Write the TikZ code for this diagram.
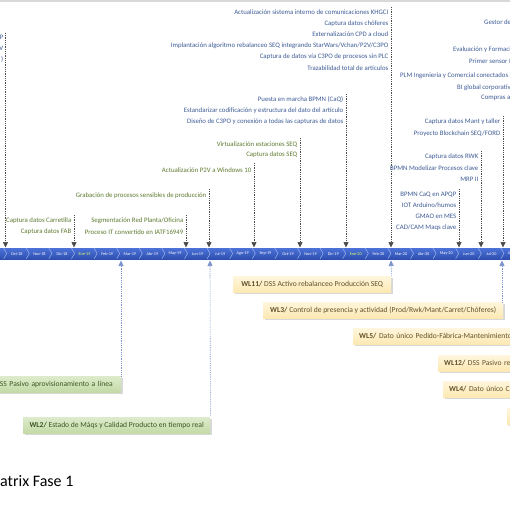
\documentclass[tikz,border=0pt]{standalone}
\usepackage{fontspec}
\setmainfont{Carlito}
\usetikzlibrary{arrows.meta,shadows}
\definecolor{evgreen}{HTML}{5F7A31}
\definecolor{evblue}{HTML}{3E5C96}
\definecolor{barTop}{HTML}{4D72D8}
\definecolor{barBot}{HTML}{2E4FB0}
\definecolor{chev}{HTML}{9DB4EE}
\definecolor{upcol}{HTML}{4463B8}
\definecolor{ylwTop}{HTML}{FFF6DC}
\definecolor{ylwBot}{HTML}{FCE8B2}
\definecolor{ylwTxt}{HTML}{63502A}
\definecolor{grnTop}{HTML}{DDEBCB}
\definecolor{grnBot}{HTML}{C3DAA6}
\definecolor{grnTxt}{HTML}{3E5726}
\begin{document}
\begin{tikzpicture}[x=1pt,y=-1pt,
  ev/.style={font=\fontsize{6.8}{7.5}\selectfont, inner sep=0pt, anchor=east},
  evg/.style={ev, text=evgreen},
  evb/.style={ev, text=evblue},
  evcut/.style={font=\fontsize{6.8}{7.5}\selectfont, inner sep=0pt, anchor=west, text=evblue},
  downline/.style={draw=black!70, line width=0.7pt, dash pattern=on 0.9pt off 0.9pt,
    -{Triangle[width=5pt,length=5.5pt]}},
  upline/.style={draw=upcol!70, line width=0.6pt, dash pattern=on 0.9pt off 0.9pt,
    {Triangle[width=5pt,length=5.5pt]}-},
  boxbase/.style={minimum height=16pt, inner ysep=0pt, inner xsep=6pt,
    font=\fontsize{7.6}{9}\selectfont,
    drop shadow={shadow xshift=2pt, shadow yshift=-2pt, fill=black!30}},
  wly/.style={boxbase, top color=ylwTop, bottom color=ylwBot, text=ylwTxt},
  wlg/.style={boxbase, top color=grnTop, bottom color=grnBot, text=grnTxt},
  month/.style={font=\fontsize{4.2}{4.7}\selectfont, text=white, inner sep=0pt},
  monthene/.style={month, text=green!20!yellow!60!white}
]
\useasboundingbox (0,0) rectangle (510,510);
\fill[white] (0,0) rectangle (510,510);
\fill[black!15] (0,0) rectangle (510,1.8);

% ---------- timeline bar ----------
\shade[top color=barTop, bottom color=barBot] (-5,248) rectangle (515,259);
\foreach \k in {0,...,22}{
  \pgfmathsetmacro{\b}{5.5+22.6*\k}
  \draw[chev, line width=0.5pt] (\b-1.8,248.3) -- (\b+1.2,253.5) -- (\b-1.8,258.7);
}
\foreach \m [count=\i from -1] in {Sep-18,Oct-18,Nov-18,Dic-18,Ene-19,Feb-19,Mar-19,Abr-19,May-19,Jun-19,Jul-19,Ago-19,Sep-19,Oct-19,Nov-19,Dic-19,Ene-20,Feb-20,Mar-20,Abr-20,May-20,Jun-20,Jul-20,Ago-20}{
  \pgfmathsetmacro{\cx}{16.8+22.6*\i}
  \ifnum\i=3 \node[monthene] (m\i) at (\cx,253.7) {\m};
  \else\ifnum\i=15 \node[monthene] (m\i) at (\cx,253.7) {\m};
  \else \node[month] (m\i) at (\cx,253.7) {\m};
  \fi\fi
}

% ---------- events above the bar ----------
% group A (cut at left)
\coordinate (aT) at (5.5,33); \coordinate (aA) at (5.5,247.5);
\node[evb] (a1) at (3.5,37) {P};
\node[evb] (a2) at (3.5,48) {V};
\node[evb] (a3) at (3.5,59) {)};
\draw[downline] (aT) -- (aA);

% group B
\coordinate (bT) at (74,215); \coordinate (bA) at (74,247.5);
\node[evg] (b1) at (71.5,221) {Captura datos Carretilla};
\node[evg] (b2) at (71.5,232) {Captura datos FAB};
\draw[downline] (bT) -- (bA);

% group C
\coordinate (cT) at (186,215); \coordinate (cA) at (186,247.5);
\node[evg] (c1) at (183.5,221) {Segmentación Red Planta/Oficina};
\node[evg] (c2) at (183.5,232) {Proceso IT convertido en IATF16949};
\draw[downline] (cT) -- (cA);

% group D
\coordinate (dT) at (209,189); \coordinate (dA) at (209,247.5);
\node[evg] (d1) at (206.5,196) {Grabación de procesos sensibles de producción};
\draw[downline] (dT) -- (dA);

% group E
\coordinate (eT) at (254,163); \coordinate (eA) at (254,247.5);
\node[evg] (e1) at (251.5,170) {Actualización P2V a Windows 10};
\draw[downline] (eT) -- (eA);

% group F
\coordinate (fT) at (300,138); \coordinate (fA) at (300,247.5);
\node[evg] (f1) at (297.5,144.3) {Virtualización estaciones SEQ};
\node[evg] (f2) at (297.5,154.7) {Captura datos SEQ};
\draw[downline] (fT) -- (fA);

% group G
\coordinate (gT) at (346,94); \coordinate (gA) at (346,247.5);
\node[evb] (g1) at (343.5,99.5) {Puesta en marcha BPMN (CaQ)};
\node[evb] (g2) at (343.5,111) {Estandarizar codificación y estructura del dato del artículo};
\node[evb] (g3) at (343.5,122) {Diseño de C3PO y conexión a todas las capturas de datos};
\draw[downline] (gT) -- (gA);

% group H
\coordinate (hT) at (391,7); \coordinate (hA) at (391,247.5);
\node[evb] (h1) at (388.5,12.5) {Actualización sistema interno de comunicaciones KHGCI};
\node[evb] (h2) at (388.5,23.5) {Captura datos chóferes};
\node[evb] (h3) at (388.5,34.5) {Externalización CPD a cloud};
\node[evb] (h4) at (388.5,45.5) {Implantación algoritmo rebalanceo SEQ integrando StarWars/Vchan/P2V/C3PO};
\node[evb] (h5) at (388.5,56.5) {Captura de datos vía C3PO de procesos sin PLC};
\node[evb] (h6) at (388.5,68) {Trazabilidad total de artículos};
\draw[downline] (hT) -- (hA);

% group APQP
\coordinate (iT) at (459,189); \coordinate (iA) at (459,247.5);
\node[evb] (i1) at (456.5,194.5) {BPMN CaQ en APQP};
\node[evb] (i2) at (456.5,205.5) {IOT Arduino/humos};
\node[evb] (i3) at (456.5,216.5) {GMAO en MES};
\node[evb] (i4) at (456.5,227.5) {CAD/CAM Maqs clave};
\draw[downline] (iT) -- (iA);

% group RWK
\coordinate (jT) at (481,151); \coordinate (jA) at (481,247.5);
\node[evb] (j1) at (478.5,157) {Captura datos RWK};
\node[evb] (j2) at (478.5,168) {BPMN Modelizar Procesos clave};
\node[evb] (j3) at (478.5,179) {MRP II};
\draw[downline] (jT) -- (jA);

% group Mant
\coordinate (kT) at (503,116); \coordinate (kA) at (503,247.5);
\node[evb] (k1) at (500.5,122) {Captura datos Mant y taller};
\node[evb] (k2) at (500.5,133.5) {Proyecto Blockchain SEQ/FORD};
\draw[downline] (kT) -- (kA);

% texts cut at the right edge
\node[evcut] (r1) at (484,22.3) {Gestor de};
\node[evcut] (r2) at (453,50) {Evaluación y Formaci};
\node[evcut] (r3) at (469,60.7) {Primer sensor I};
\node[evcut] (r4) at (400,76) {PLM Ingeniería y Comercial conectados a};
\node[evcut] (r5) at (457,87.3) {BI global corporativ};
\node[evcut] (r6) at (481,98.3) {Compras a};

% ---------- work lines below the bar ----------
\node[wlg, anchor=north east, text width=150pt, align=right, inner xsep=8pt] (wl1) at (121,376)
  {DSS Pasivo aprovisionamiento a línea};
\node[wlg, anchor=north west, minimum width=187pt] (wl2) at (23,417)
  {\textbf{WL2/} Estado de Máqs y Calidad Producto en tiempo real};
\node[wly, anchor=north west, minimum width=158pt] (wl11) at (233,276)
  {\textbf{WL11/} DSS Activo rebalanceo Producción SEQ};
\node[wly, anchor=north west, minimum width=240pt] (wl3) at (263,302)
  {\textbf{WL3/} Control de presencia y actividad (Prod/Rwk/Mant/Carret/Chóferes)};
\node[wly, anchor=north west, text width=170pt, align=left] (wl5) at (353,328)
  {\textbf{WL5/} Dato único Pedido-Fábrica-Mantenimiento};
\node[wly, anchor=north west, text width=90pt, align=left] (wl12) at (438,355)
  {\textbf{WL12/} DSS Pasivo reb};
\node[wly, anchor=north west, text width=90pt, align=left] (wl4) at (443,381)
  {\textbf{WL4/} Dato único Cl};
\node[wly, anchor=north west, minimum width=30pt] (wlx) at (507,408) {};

\coordinate (u1) at (121,260.5);
\coordinate (u2) at (210,260.5);
\coordinate (u11) at (391,260.5);
\coordinate (u3) at (502,260.5);
\draw[upline] (u1) -- (wl1.north east);
\draw[upline] (u2) -- (wl2.north east);
\draw[upline] (u11) -- (wl11.north east);
\draw[upline] (u3) -- (u3 |- wl3.north);

% ---------- title fragment ----------
\node[anchor=base west, inner sep=0pt, font=\fontsize{16}{19}\selectfont] (title) at (0,486) {atrix Fase 1};
\end{tikzpicture}
\end{document}
